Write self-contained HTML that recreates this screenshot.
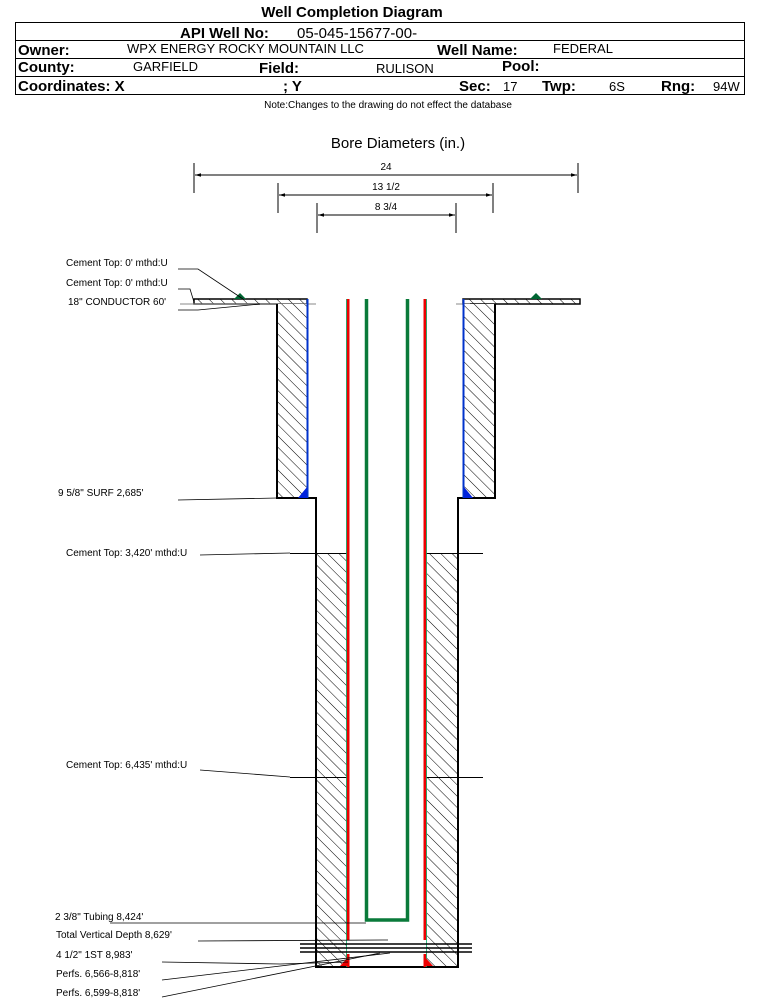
<!DOCTYPE html>
<html><head><meta charset="utf-8"><style>
body{margin:0;background:#fff;width:759px;height:1001px;overflow:hidden;font-family:"Liberation Sans",sans-serif}
</style></head><body>
<svg width="759" height="1001" viewBox="0 0 759 1001" xmlns="http://www.w3.org/2000/svg" font-family="Liberation Sans, sans-serif">
<defs>
<pattern id="h" width="8" height="8" patternUnits="userSpaceOnUse" patternTransform="rotate(-45)">
<rect width="8" height="8" fill="#fff"/><line x1="0" y1="0" x2="0" y2="8" stroke="#000" stroke-width="1"/>
</pattern>
<marker id="a" viewBox="0 0 10 10" refX="10" refY="5" markerWidth="8" markerHeight="6" orient="auto-start-reverse"><path d="M0,2 L10,5 L0,8z" fill="#000"/></marker>
</defs>
<text x="352" y="17" font-size="15" font-weight="bold" text-anchor="middle">Well Completion Diagram</text>
<rect x="15.5" y="22.5" width="729" height="72" fill="none" stroke="#000"/>
<line x1="15" y1="40.5" x2="745" y2="40.5" stroke="#000"/>
<line x1="15" y1="58.5" x2="745" y2="58.5" stroke="#000"/>
<line x1="15" y1="76.5" x2="745" y2="76.5" stroke="#000"/>
<g font-size="15" font-weight="bold">
<text x="180" y="38">API Well No:</text>
<text x="18" y="55">Owner:</text><text x="437" y="55">Well Name:</text>
<text x="18" y="72">County:</text><text x="259" y="73">Field:</text><text x="502" y="71">Pool:</text>
<text x="18" y="91">Coordinates: X</text><text x="283" y="91">; Y</text><text x="459" y="91">Sec:</text><text x="542" y="91">Twp:</text><text x="661" y="91">Rng:</text>
</g>
<g font-size="13">
<text x="297" y="38" font-size="15">05-045-15677-00-</text>
<text x="127" y="53">WPX ENERGY ROCKY MOUNTAIN LLC</text><text x="553" y="53">FEDERAL</text>
<text x="133" y="71">GARFIELD</text><text x="376" y="73">RULISON</text>
<text x="503" y="91">17</text><text x="609" y="91">6S</text><text x="713" y="91">94W</text>
</g>
<text x="388" y="108" font-size="10" text-anchor="middle">Note:Changes to the drawing do not effect the database</text>
<text x="398" y="148" font-size="15" text-anchor="middle">Bore Diameters (in.)</text>
<g stroke="#000" fill="none">
<line x1="194" y1="163" x2="194" y2="193"/><line x1="578" y1="163" x2="578" y2="193"/>
<line x1="195" y1="175" x2="577" y2="175" marker-start="url(#a)" marker-end="url(#a)"/>
<line x1="278" y1="183" x2="278" y2="213"/><line x1="493" y1="183" x2="493" y2="213"/>
<line x1="279" y1="195" x2="492" y2="195" marker-start="url(#a)" marker-end="url(#a)"/>
<line x1="317" y1="203" x2="317" y2="233"/><line x1="456" y1="203" x2="456" y2="233"/>
<line x1="318" y1="215" x2="455" y2="215" marker-start="url(#a)" marker-end="url(#a)"/>
</g>
<g font-size="10" text-anchor="middle"><text x="386" y="170">24</text><text x="386" y="190">13 1/2</text><text x="386" y="210">8 3/4</text></g>
<rect x="194" y="299" width="113" height="5" fill="url(#h)" stroke="#000" stroke-width="1.5"/>
<rect x="463" y="299" width="117" height="5" fill="url(#h)" stroke="#000" stroke-width="1.5"/>
<line x1="180" y1="304" x2="316" y2="304" stroke="#888"/>
<line x1="456" y1="304" x2="470" y2="304" stroke="#888"/>
<rect x="277" y="304" width="30" height="194" fill="url(#h)"/>
<rect x="463" y="304" width="32" height="194" fill="url(#h)"/>
<g stroke="#000" stroke-width="2" fill="none">
<polyline points="277,304 277,498 316,498 316,967 458,967 458,498 495,498 495,304"/>
</g>
<line x1="307.5" y1="299" x2="307.5" y2="498" stroke="#0033cc" stroke-width="2"/>
<line x1="463.5" y1="299" x2="463.5" y2="498" stroke="#0033cc" stroke-width="2"/>
<path d="M307,487 L307,498 L298,498z" fill="#0022dd"/>
<path d="M464,487 L464,498 L473,498z" fill="#0022dd"/>
<path d="M234,299 L240,293 L246,299z" fill="#063"/>
<path d="M530,299 L536,293 L542,299z" fill="#063"/>
<rect x="317" y="553" width="30" height="413" fill="url(#h)"/>
<rect x="427" y="553" width="30" height="413" fill="url(#h)"/>
<g stroke="#000">
<line x1="290" y1="553.5" x2="347" y2="553.5"/><line x1="426" y1="553.5" x2="483" y2="553.5"/>
<line x1="290" y1="777.5" x2="347" y2="777.5"/><line x1="426" y1="777.5" x2="483" y2="777.5"/>
</g>
<line x1="348" y1="299" x2="348" y2="940" stroke="#e00" stroke-width="3"/>
<line x1="425" y1="299" x2="425" y2="940" stroke="#e00" stroke-width="3"/>
<line x1="348" y1="954" x2="348" y2="967" stroke="#e00" stroke-width="3"/>
<line x1="425" y1="954" x2="425" y2="967" stroke="#e00" stroke-width="3"/>
<line x1="346.5" y1="299" x2="346.5" y2="967" stroke="#0a6" stroke-width="0.8"/>
<line x1="426.5" y1="299" x2="426.5" y2="967" stroke="#0a6" stroke-width="0.8"/>
<path d="M349,956 L349,966 L340,966z" fill="#e00"/><path d="M424,956 L424,966 L433,966z" fill="#e00"/>
<polyline points="366.5,299 366.5,920 407.5,920 407.5,299" fill="none" stroke="#0a7a3a" stroke-width="3.5"/>
<g stroke="#000" stroke-width="1.5"><line x1="300" y1="944" x2="472" y2="944"/><line x1="300" y1="948" x2="472" y2="948"/><line x1="300" y1="952" x2="472" y2="952"/></g>
<g stroke="#000" fill="none" stroke-width="0.8">
<polyline points="178,269 198,269 243,299"/>
<polyline points="178,289 190,289 194,302"/>
<polyline points="178,310 198,310 260,304"/>
<polyline points="178,500 277,498"/>
<polyline points="200,555 290,553"/>
<polyline points="200,770 290,777"/>
<polyline points="110,923 366,923"/>
<polyline points="198,941 388,940"/>
<polyline points="162,962 280,964 348,962"/>
<polyline points="162,980 390,953"/>
<polyline points="162,997 380,953"/>
</g>
<g font-size="10">
<text x="66" y="266">Cement Top: 0' mthd:U</text>
<text x="66" y="286">Cement Top: 0' mthd:U</text>
<text x="68" y="305">18" CONDUCTOR  60'</text>
<text x="58" y="496">9 5/8" SURF       2,685'</text>
<text x="66" y="556">Cement Top: 3,420' mthd:U</text>
<text x="66" y="768">Cement Top: 6,435' mthd:U</text>
<text x="55" y="920">2 3/8" Tubing 8,424'</text>
<text x="56" y="938">Total Vertical Depth 8,629'</text>
<text x="56" y="958">4 1/2" 1ST        8,983'</text>
<text x="56" y="977">Perfs. 6,566-8,818'</text>
<text x="56" y="996">Perfs. 6,599-8,818'</text>
</g>
</svg>
</body></html>
